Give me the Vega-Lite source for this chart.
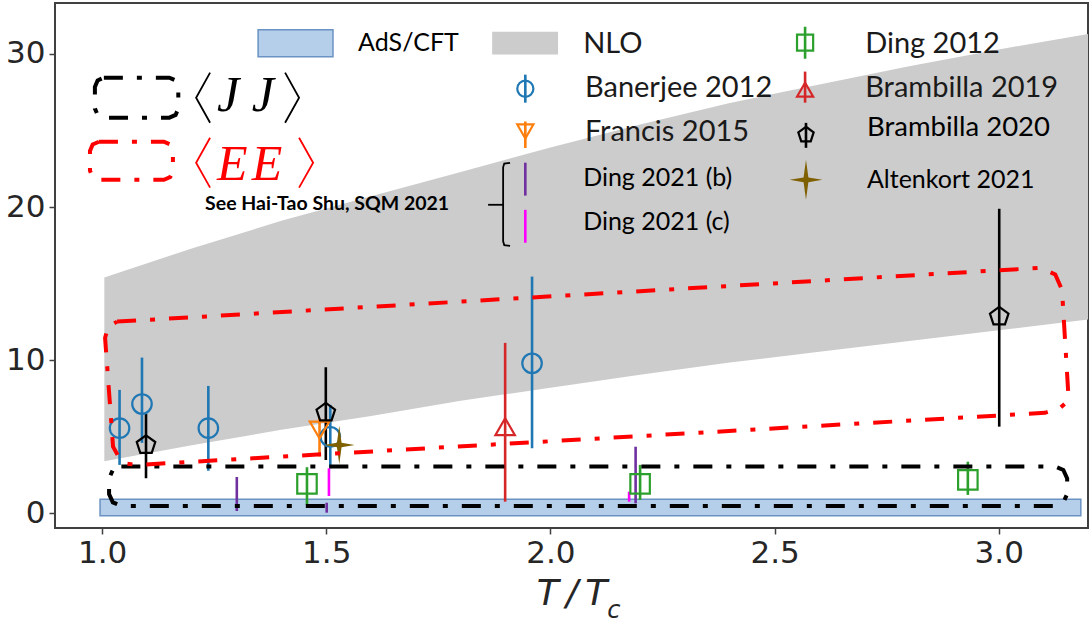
{
  "$schema": "https://vega.github.io/schema/vega-lite/v6.json",
  "width": 1033,
  "height": 525,
  "autosize": {"type": "none"},
  "padding": {"left": 55, "top": 3, "right": 2, "bottom": 96},
  "background": "white",
  "config": {
    "view": {"stroke": "#404040", "strokeWidth": 2},
    "axis": {
      "grid": false,
      "domain": false,
      "labelFont": "DejaVu Sans",
      "labelFontSize": 31,
      "labelColor": "#262626",
      "tickColor": "#404040",
      "tickWidth": 1.5,
      "tickSize": 6,
      "labelPadding": 4,
      "titleFont": "DejaVu Sans",
      "titleFontStyle": "italic",
      "titleFontWeight": "normal",
      "titleFontSize": 36,
      "titleColor": "#262626",
      "titlePadding": 8
    }
  },
  "datasets": {
    "nlo": [
      {"T": 1.005, "y": 3.4, "hi": 15.4},
      {"T": 1.2, "y": 4.45, "hi": 17.3},
      {"T": 1.4, "y": 5.45, "hi": 19.1},
      {"T": 1.6, "y": 6.35, "hi": 20.7},
      {"T": 1.8, "y": 7.35, "hi": 22.3},
      {"T": 2.0, "y": 8.2, "hi": 23.9},
      {"T": 2.2, "y": 9.05, "hi": 25.4},
      {"T": 2.4, "y": 9.85, "hi": 26.8},
      {"T": 2.6, "y": 10.55, "hi": 28.0},
      {"T": 2.8, "y": 11.25, "hi": 29.2},
      {"T": 3.0, "y": 11.95, "hi": 30.3},
      {"T": 3.199, "y": 12.65, "hi": 31.3}
    ],
    "ads": [
      {"T": 0.9955, "T1": 3.183, "y": -0.157, "hi": 0.915},
      {"T": 1.348, "T1": 1.515, "y": 29.82, "hi": 31.59}
    ],
    "nloswatch": [
      {"T": 1.870, "T1": 2.017, "y": 29.96, "hi": 31.46}
    ],
    "pts": [
      {"series": "Banerjee 2012", "T": 1.039, "y": 5.56, "lo": 3.16, "hi": 8.06},
      {"series": "Banerjee 2012", "T": 1.089, "y": 7.14, "lo": 4.6, "hi": 10.17},
      {"series": "Banerjee 2012", "T": 1.237, "y": 5.56, "lo": 2.78, "hi": 8.32},
      {"series": "Banerjee 2012", "T": 1.509, "y": 5.0, "lo": 2.94, "hi": 7.08},
      {"series": "Banerjee 2012", "T": 1.959, "y": 9.8, "lo": 4.25, "hi": 15.46},
      {"series": "Francis 2015", "T": 1.485, "y": 5.44, "lo": 3.7, "hi": 6.2},
      {"series": "Ding 2012", "T": 1.457, "y": 1.92, "lo": 0.54, "hi": 3.01},
      {"series": "Ding 2012", "T": 2.2, "y": 1.92, "lo": 0.87, "hi": 3.16},
      {"series": "Ding 2012", "T": 2.931, "y": 2.18, "lo": 1.2, "hi": 3.37},
      {"series": "Brambilla 2019", "T": 1.899, "y": 5.66, "lo": 0.76, "hi": 11.13},
      {"series": "Brambilla 2020", "T": 1.098, "y": 4.46, "lo": 2.29, "hi": 6.49},
      {"series": "Brambilla 2020", "T": 1.499, "y": 6.58, "lo": 3.48, "hi": 9.54},
      {"series": "Brambilla 2020", "T": 3.001, "y": 12.85, "lo": 5.66, "hi": 19.89},
      {"series": "Altenkort 2021", "T": 1.529, "y": 4.46, "lo": null, "hi": null},
      {"series": "Ding 2021 (b)", "T": 1.3005, "y": null, "lo": 0.15, "hi": 2.37},
      {"series": "Ding 2021 (b)", "T": 1.501, "y": null, "lo": 0.04, "hi": 0.69},
      {"series": "Ding 2021 (b)", "T": 2.19, "y": null, "lo": 0.65, "hi": 4.35},
      {"series": "Ding 2021 (c)", "T": 1.506, "y": null, "lo": 1.13, "hi": 2.94},
      {"series": "Ding 2021 (c)", "T": 2.1755, "y": null, "lo": 0.76, "hi": 1.41}
    ],
    "legm": [
      {"series": "Banerjee 2012", "T": 1.944, "y": 27.73, "lo": 26.82, "hi": 28.65},
      {"series": "Francis 2015", "T": 1.944, "y": 24.94, "lo": 23.86, "hi": 25.59},
      {"series": "Ding 2021 (b)", "T": 1.944, "y": null, "lo": 20.75, "hi": 22.9},
      {"series": "Ding 2021 (c)", "T": 1.944, "y": null, "lo": 17.67, "hi": 19.82},
      {"series": "Ding 2012", "T": 2.568, "y": 30.74, "lo": 29.69, "hi": 31.78},
      {"series": "Brambilla 2019", "T": 2.568, "y": 27.67, "lo": 26.82, "hi": 28.85},
      {"series": "Brambilla 2020", "T": 2.570, "y": 24.72, "lo": 23.87, "hi": 25.5},
      {"series": "Altenkort 2021", "T": 2.570, "y": 21.78, "lo": null, "hi": null}
    ],
    "legt": [
      {"label": "AdS/CFT", "T": 1.571, "y": 30.74, "grp": "small"},
      {"label": "NLO", "T": 2.073, "y": 30.67, "grp": "big"},
      {"label": "Banerjee 2012", "T": 2.077, "y": 27.8, "grp": "big"},
      {"label": "Francis 2015", "T": 2.077, "y": 24.92, "grp": "big"},
      {"label": "Ding 2021 (b)", "T": 2.073, "y": 21.92, "grp": "small"},
      {"label": "Ding 2021 (c)", "T": 2.073, "y": 19.04, "grp": "small"},
      {"label": "Ding 2012", "T": 2.702, "y": 30.67, "grp": "big"},
      {"label": "Brambilla 2019", "T": 2.702, "y": 27.8, "grp": "big"},
      {"label": "Brambilla 2020", "T": 2.706, "y": 25.18, "grp": "mid"},
      {"label": "Altenkort 2021", "T": 2.706, "y": 21.78, "grp": "small"}
    ],
    "boxes": [
      {"box": "JJ plot", "kind": "JJ", "i": 1, "T": 1.043, "y": 3.06},
      {"box": "JJ plot", "kind": "JJ", "i": 2, "T": 3.125, "y": 3.06},
      {"box": "JJ plot", "kind": "JJ", "i": 3, "T": 3.144, "y": 2.83},
      {"box": "JJ plot", "kind": "JJ", "i": 4, "T": 3.1525, "y": 2.28},
      {"box": "JJ plot", "kind": "JJ", "i": 5, "T": 3.1525, "y": 1.26},
      {"box": "JJ plot", "kind": "JJ", "i": 6, "T": 3.144, "y": 0.71},
      {"box": "JJ plot", "kind": "JJ", "i": 7, "T": 3.125, "y": 0.48},
      {"box": "JJ plot", "kind": "JJ", "i": 8, "T": 1.043, "y": 0.48},
      {"box": "JJ plot", "kind": "JJ", "i": 9, "T": 1.024, "y": 0.71},
      {"box": "JJ plot", "kind": "JJ", "i": 10, "T": 1.0156, "y": 1.26},
      {"box": "JJ plot", "kind": "JJ", "i": 11, "T": 1.0156, "y": 2.28},
      {"box": "JJ plot", "kind": "JJ", "i": 12, "T": 1.024, "y": 2.83},
      {"box": "JJ plot", "kind": "JJ", "i": 13, "T": 1.043, "y": 3.06},
      {"box": "EE plot", "kind": "EE", "i": 1, "T": 1.0335, "y": 12.52},
      {"box": "EE plot", "kind": "EE", "i": 2, "T": 3.092, "y": 16.03},
      {"box": "EE plot", "kind": "EE", "i": 3, "T": 3.126, "y": 15.6},
      {"box": "EE plot", "kind": "EE", "i": 4, "T": 3.141, "y": 14.6},
      {"box": "EE plot", "kind": "EE", "i": 5, "T": 3.155, "y": 7.86},
      {"box": "EE plot", "kind": "EE", "i": 6, "T": 3.149, "y": 7.2},
      {"box": "EE plot", "kind": "EE", "i": 7, "T": 3.137, "y": 6.88},
      {"box": "EE plot", "kind": "EE", "i": 8, "T": 3.103, "y": 6.56},
      {"box": "EE plot", "kind": "EE", "i": 9, "T": 1.078, "y": 3.16},
      {"box": "EE plot", "kind": "EE", "i": 10, "T": 1.052, "y": 3.25},
      {"box": "EE plot", "kind": "EE", "i": 11, "T": 1.040, "y": 3.53},
      {"box": "EE plot", "kind": "EE", "i": 12, "T": 1.0245, "y": 4.35},
      {"box": "EE plot", "kind": "EE", "i": 13, "T": 1.0067, "y": 11.46},
      {"box": "EE plot", "kind": "EE", "i": 14, "T": 1.0134, "y": 12.18},
      {"box": "EE plot", "kind": "EE", "i": 15, "T": 1.0335, "y": 12.52},
      {"box": "JJ key", "kind": "JJ", "i": 1, "T": 1.004, "y": 28.45},
      {"box": "JJ key", "kind": "JJ", "i": 2, "T": 1.150, "y": 28.45},
      {"box": "JJ key", "kind": "JJ", "i": 3, "T": 1.164, "y": 28.27},
      {"box": "JJ key", "kind": "JJ", "i": 4, "T": 1.170, "y": 27.85},
      {"box": "JJ key", "kind": "JJ", "i": 5, "T": 1.170, "y": 26.44},
      {"box": "JJ key", "kind": "JJ", "i": 6, "T": 1.164, "y": 26.02},
      {"box": "JJ key", "kind": "JJ", "i": 7, "T": 1.150, "y": 25.84},
      {"box": "JJ key", "kind": "JJ", "i": 8, "T": 1.004, "y": 25.84},
      {"box": "JJ key", "kind": "JJ", "i": 9, "T": 0.990, "y": 26.02},
      {"box": "JJ key", "kind": "JJ", "i": 10, "T": 0.984, "y": 26.44},
      {"box": "JJ key", "kind": "JJ", "i": 11, "T": 0.984, "y": 27.85},
      {"box": "JJ key", "kind": "JJ", "i": 12, "T": 0.990, "y": 28.27},
      {"box": "JJ key", "kind": "JJ", "i": 13, "T": 1.004, "y": 28.45},
      {"box": "EE key", "kind": "EE", "i": 1, "T": 0.993, "y": 24.27},
      {"box": "EE key", "kind": "EE", "i": 2, "T": 1.138, "y": 24.27},
      {"box": "EE key", "kind": "EE", "i": 3, "T": 1.152, "y": 24.09},
      {"box": "EE key", "kind": "EE", "i": 4, "T": 1.158, "y": 23.67},
      {"box": "EE key", "kind": "EE", "i": 5, "T": 1.158, "y": 22.38},
      {"box": "EE key", "kind": "EE", "i": 6, "T": 1.152, "y": 21.96},
      {"box": "EE key", "kind": "EE", "i": 7, "T": 1.138, "y": 21.78},
      {"box": "EE key", "kind": "EE", "i": 8, "T": 0.993, "y": 21.78},
      {"box": "EE key", "kind": "EE", "i": 9, "T": 0.979, "y": 21.96},
      {"box": "EE key", "kind": "EE", "i": 10, "T": 0.973, "y": 22.38},
      {"box": "EE key", "kind": "EE", "i": 11, "T": 0.973, "y": 23.67},
      {"box": "EE key", "kind": "EE", "i": 12, "T": 0.979, "y": 24.09},
      {"box": "EE key", "kind": "EE", "i": 13, "T": 0.993, "y": 24.27}
    ],
    "brk": [
      {"part": "main", "kind": "JJ", "i": 1, "T": 1.910, "y": 22.89},
      {"part": "main", "kind": "JJ", "i": 2, "T": 1.897, "y": 22.84},
      {"part": "main", "kind": "JJ", "i": 3, "T": 1.8945, "y": 22.6},
      {"part": "main", "kind": "JJ", "i": 4, "T": 1.8945, "y": 17.76},
      {"part": "main", "kind": "JJ", "i": 5, "T": 1.897, "y": 17.52},
      {"part": "main", "kind": "JJ", "i": 6, "T": 1.910, "y": 17.47},
      {"part": "tick", "kind": "JJ", "i": 1, "T": 1.861, "y": 20.15},
      {"part": "tick", "kind": "JJ", "i": 2, "T": 1.8945, "y": 20.15},
      {"part": "JJ left", "kind": "JJ", "i": 1, "T": 1.2409, "y": 28.78},
      {"part": "JJ left", "kind": "JJ", "i": 2, "T": 1.2097, "y": 27.14},
      {"part": "JJ left", "kind": "JJ", "i": 3, "T": 1.2409, "y": 25.51},
      {"part": "JJ right", "kind": "JJ", "i": 1, "T": 1.4082, "y": 28.78},
      {"part": "JJ right", "kind": "JJ", "i": 2, "T": 1.4394, "y": 27.14},
      {"part": "JJ right", "kind": "JJ", "i": 3, "T": 1.4082, "y": 25.51},
      {"part": "EE left", "kind": "EE", "i": 1, "T": 1.2409, "y": 24.53},
      {"part": "EE left", "kind": "EE", "i": 2, "T": 1.2097, "y": 22.9},
      {"part": "EE left", "kind": "EE", "i": 3, "T": 1.2409, "y": 21.27},
      {"part": "EE right", "kind": "EE", "i": 1, "T": 1.4394, "y": 24.53},
      {"part": "EE right", "kind": "EE", "i": 2, "T": 1.4707, "y": 22.9},
      {"part": "EE right", "kind": "EE", "i": 3, "T": 1.4394, "y": 21.27}
    ],
    "notes": [
      {"label": "See Hai-Tao Shu, SQM 2021", "T": 1.2298, "y": 20.22}
    ],
    "corr": [
      {"label": "J J", "kind": "JJ", "T": 1.2565, "y": 26.29},
      {"label": "E\u200aE", "kind": "EE", "T": 1.2565, "y": 21.78}
    ],
    "sub": [
      {"label": "c", "T": 2.1265, "y": -6.84}
    ]
  },
  "layer": [
    {
      "data": {"name": "nlo"},
      "mark": {"type": "area", "color": "#cccccc", "opacity": 1},
      "encoding": {
        "x": {"field": "T", "type": "quantitative", "title": "T\u2009/\u2009T", "scale": {"domain": [0.895, 3.199], "nice": false, "zero": false}, "axis": {"values": [1.0, 1.5, 2.0, 2.5, 3.0], "format": ".1f"}},
        "y": {"field": "y", "type": "quantitative", "title": null, "scale": {"domain": [-0.96, 33.33], "nice": false, "zero": false}, "axis": {"values": [0, 10, 20, 30]}},
        "y2": {"field": "hi"}
      }
    },
    {
      "data": {"name": "ads"},
      "mark": {"type": "rect", "fill": "#b5cfeb", "stroke": "#6a92c2", "strokeWidth": 1.5},
      "encoding": {
        "x": {"field": "T", "type": "quantitative", "title": "T\u2009/\u2009T", "scale": {"domain": [0.895, 3.199], "nice": false, "zero": false}, "axis": {"values": [1.0, 1.5, 2.0, 2.5, 3.0], "format": ".1f"}},
        "x2": {"field": "T1"},
        "y": {"field": "y", "type": "quantitative", "title": null, "scale": {"domain": [-0.96, 33.33], "nice": false, "zero": false}, "axis": {"values": [0, 10, 20, 30]}},
        "y2": {"field": "hi"}
      }
    },
    {
      "data": {"name": "nloswatch"},
      "mark": {"type": "rect", "fill": "#cccccc"},
      "encoding": {
        "x": {"field": "T", "type": "quantitative", "title": "T\u2009/\u2009T", "scale": {"domain": [0.895, 3.199], "nice": false, "zero": false}, "axis": {"values": [1.0, 1.5, 2.0, 2.5, 3.0], "format": ".1f"}},
        "x2": {"field": "T1"},
        "y": {"field": "y", "type": "quantitative", "title": null, "scale": {"domain": [-0.96, 33.33], "nice": false, "zero": false}, "axis": {"values": [0, 10, 20, 30]}},
        "y2": {"field": "hi"}
      }
    },
    {
      "data": {"name": "pts"},
      "transform": [{"filter": "datum.lo != null"}],
      "mark": {"type": "rule", "strokeWidth": 2.6},
      "encoding": {
        "x": {"field": "T", "type": "quantitative", "title": "T\u2009/\u2009T", "scale": {"domain": [0.895, 3.199], "nice": false, "zero": false}, "axis": {"values": [1.0, 1.5, 2.0, 2.5, 3.0], "format": ".1f"}},
        "y": {"field": "lo", "type": "quantitative", "title": null, "scale": {"domain": [-0.96, 33.33], "nice": false, "zero": false}, "axis": {"values": [0, 10, 20, 30]}},
        "y2": {"field": "hi"},
        "color": {"field": "series", "type": "nominal", "legend": null,
                  "scale": {"domain": ["Banerjee 2012", "Francis 2015", "Ding 2012", "Brambilla 2019", "Brambilla 2020", "Altenkort 2021", "Ding 2021 (b)", "Ding 2021 (c)"],
                            "range": ["#1f77b4", "#ff7f0e", "#2ca02c", "#d62728", "#000000", "#7f6000", "#7030a0", "#ff00ff"]}}
      }
    },
    {
      "data": {"name": "pts"},
      "transform": [{"filter": "datum.y != null && datum.series != 'Altenkort 2021'"}],
      "mark": {"type": "point", "filled": false, "strokeWidth": 2.2, "opacity": 1},
      "encoding": {
        "x": {"field": "T", "type": "quantitative", "title": "T\u2009/\u2009T", "scale": {"domain": [0.895, 3.199], "nice": false, "zero": false}, "axis": {"values": [1.0, 1.5, 2.0, 2.5, 3.0], "format": ".1f"}},
        "y": {"field": "y", "type": "quantitative", "title": null, "scale": {"domain": [-0.96, 33.33], "nice": false, "zero": false}, "axis": {"values": [0, 10, 20, 30]}},
        "color": {"field": "series", "type": "nominal", "legend": null},
        "shape": {"field": "series", "type": "nominal", "legend": null,
                  "scale": {"domain": ["Banerjee 2012", "Francis 2015", "Ding 2012", "Brambilla 2019", "Brambilla 2020"],
                            "range": ["circle", "triangle-down", "square", "triangle-up", "M0,-1L0.951,-0.309L0.588,0.809L-0.588,0.809L-0.951,-0.309Z"]}},
        "size": {"value": 380}
      }
    },
    {
      "data": {"name": "pts"},
      "transform": [{"filter": "datum.series == 'Altenkort 2021'"}],
      "mark": {"type": "point", "filled": true, "opacity": 1, "color": "#7f6000",
               "shape": "M0,-1L0.12,-0.12L0.8,0L0.12,0.12L0,1L-0.12,0.12L-0.8,0L-0.12,-0.12Z", "size": 1480},
      "encoding": {
        "x": {"field": "T", "type": "quantitative", "title": "T\u2009/\u2009T", "scale": {"domain": [0.895, 3.199], "nice": false, "zero": false}, "axis": {"values": [1.0, 1.5, 2.0, 2.5, 3.0], "format": ".1f"}},
        "y": {"field": "y", "type": "quantitative", "title": null, "scale": {"domain": [-0.96, 33.33], "nice": false, "zero": false}, "axis": {"values": [0, 10, 20, 30]}}
      }
    },
    {
      "data": {"name": "legm"},
      "transform": [{"filter": "datum.lo != null"}],
      "mark": {"type": "rule", "strokeWidth": 2.6},
      "encoding": {
        "x": {"field": "T", "type": "quantitative", "title": "T\u2009/\u2009T", "scale": {"domain": [0.895, 3.199], "nice": false, "zero": false}, "axis": {"values": [1.0, 1.5, 2.0, 2.5, 3.0], "format": ".1f"}},
        "y": {"field": "lo", "type": "quantitative", "title": null, "scale": {"domain": [-0.96, 33.33], "nice": false, "zero": false}, "axis": {"values": [0, 10, 20, 30]}},
        "y2": {"field": "hi"},
        "color": {"field": "series", "type": "nominal", "legend": null}
      }
    },
    {
      "data": {"name": "legm"},
      "transform": [{"filter": "datum.y != null && datum.series != 'Altenkort 2021'"}],
      "mark": {"type": "point", "filled": false, "strokeWidth": 2.2, "opacity": 1},
      "encoding": {
        "x": {"field": "T", "type": "quantitative", "title": "T\u2009/\u2009T", "scale": {"domain": [0.895, 3.199], "nice": false, "zero": false}, "axis": {"values": [1.0, 1.5, 2.0, 2.5, 3.0], "format": ".1f"}},
        "y": {"field": "y", "type": "quantitative", "title": null, "scale": {"domain": [-0.96, 33.33], "nice": false, "zero": false}, "axis": {"values": [0, 10, 20, 30]}},
        "color": {"field": "series", "type": "nominal", "legend": null},
        "shape": {"field": "series", "type": "nominal", "legend": null},
        "size": {"value": 260}
      }
    },
    {
      "data": {"name": "legm"},
      "transform": [{"filter": "datum.series == 'Altenkort 2021'"}],
      "mark": {"type": "point", "filled": true, "opacity": 1, "color": "#7f6000",
               "shape": "M0,-1L0.12,-0.12L0.82,0L0.12,0.12L0,1L-0.12,0.12L-0.82,0L-0.12,-0.12Z", "size": 1600},
      "encoding": {
        "x": {"field": "T", "type": "quantitative", "title": "T\u2009/\u2009T", "scale": {"domain": [0.895, 3.199], "nice": false, "zero": false}, "axis": {"values": [1.0, 1.5, 2.0, 2.5, 3.0], "format": ".1f"}},
        "y": {"field": "y", "type": "quantitative", "title": null, "scale": {"domain": [-0.96, 33.33], "nice": false, "zero": false}, "axis": {"values": [0, 10, 20, 30]}}
      }
    },
    {
      "data": {"name": "boxes"},
      "mark": {"type": "line", "strokeWidth": 4, "strokeDash": [19, 14, 5, 14], "strokeCap": "butt"},
      "encoding": {
        "x": {"field": "T", "type": "quantitative", "title": "T\u2009/\u2009T", "scale": {"domain": [0.895, 3.199], "nice": false, "zero": false}, "axis": {"values": [1.0, 1.5, 2.0, 2.5, 3.0], "format": ".1f"}},
        "y": {"field": "y", "type": "quantitative", "title": null, "scale": {"domain": [-0.96, 33.33], "nice": false, "zero": false}, "axis": {"values": [0, 10, 20, 30]}},
        "order": {"field": "i", "type": "quantitative"},
        "detail": {"field": "box", "type": "nominal"},
        "stroke": {"condition": {"test": "datum.kind === 'EE'", "value": "#ff0000"}, "value": "#000000"}
      }
    },
    {
      "data": {"name": "brk"},
      "mark": {"type": "line", "strokeWidth": 1.8},
      "encoding": {
        "x": {"field": "T", "type": "quantitative", "title": "T\u2009/\u2009T", "scale": {"domain": [0.895, 3.199], "nice": false, "zero": false}, "axis": {"values": [1.0, 1.5, 2.0, 2.5, 3.0], "format": ".1f"}},
        "y": {"field": "y", "type": "quantitative", "title": null, "scale": {"domain": [-0.96, 33.33], "nice": false, "zero": false}, "axis": {"values": [0, 10, 20, 30]}},
        "order": {"field": "i", "type": "quantitative"},
        "detail": {"field": "part", "type": "nominal"},
        "stroke": {"condition": {"test": "datum.kind === 'EE'", "value": "#ff0000"}, "value": "#000000"}
      }
    },
    {
      "data": {"name": "legt"},
      "transform": [{"filter": "datum.grp == 'big'"}],
      "mark": {"type": "text", "align": "left", "baseline": "middle", "font": "Lato", "fontSize": 29, "color": "#1a1a1a"},
      "encoding": {
        "x": {"field": "T", "type": "quantitative", "title": "T\u2009/\u2009T", "scale": {"domain": [0.895, 3.199], "nice": false, "zero": false}, "axis": {"values": [1.0, 1.5, 2.0, 2.5, 3.0], "format": ".1f"}},
        "y": {"field": "y", "type": "quantitative", "title": null, "scale": {"domain": [-0.96, 33.33], "nice": false, "zero": false}, "axis": {"values": [0, 10, 20, 30]}},
        "text": {"field": "label"}
      }
    },
    {
      "data": {"name": "legt"},
      "transform": [{"filter": "datum.grp == 'mid'"}],
      "mark": {"type": "text", "align": "left", "baseline": "middle", "font": "Lato", "fontSize": 27.5, "color": "#000000"},
      "encoding": {
        "x": {"field": "T", "type": "quantitative", "title": "T\u2009/\u2009T", "scale": {"domain": [0.895, 3.199], "nice": false, "zero": false}, "axis": {"values": [1.0, 1.5, 2.0, 2.5, 3.0], "format": ".1f"}},
        "y": {"field": "y", "type": "quantitative", "title": null, "scale": {"domain": [-0.96, 33.33], "nice": false, "zero": false}, "axis": {"values": [0, 10, 20, 30]}},
        "text": {"field": "label"}
      }
    },
    {
      "data": {"name": "legt"},
      "transform": [{"filter": "datum.grp == 'small'"}],
      "mark": {"type": "text", "align": "left", "baseline": "middle", "font": "Lato", "fontSize": 25, "color": "#000000"},
      "encoding": {
        "x": {"field": "T", "type": "quantitative", "title": "T\u2009/\u2009T", "scale": {"domain": [0.895, 3.199], "nice": false, "zero": false}, "axis": {"values": [1.0, 1.5, 2.0, 2.5, 3.0], "format": ".1f"}},
        "y": {"field": "y", "type": "quantitative", "title": null, "scale": {"domain": [-0.96, 33.33], "nice": false, "zero": false}, "axis": {"values": [0, 10, 20, 30]}},
        "text": {"field": "label"}
      }
    },
    {
      "data": {"name": "notes"},
      "mark": {"type": "text", "align": "left", "baseline": "middle", "font": "Lato", "fontWeight": "bold", "fontSize": 19.5, "color": "#000000"},
      "encoding": {
        "x": {"field": "T", "type": "quantitative", "title": "T\u2009/\u2009T", "scale": {"domain": [0.895, 3.199], "nice": false, "zero": false}, "axis": {"values": [1.0, 1.5, 2.0, 2.5, 3.0], "format": ".1f"}},
        "y": {"field": "y", "type": "quantitative", "title": null, "scale": {"domain": [-0.96, 33.33], "nice": false, "zero": false}, "axis": {"values": [0, 10, 20, 30]}},
        "text": {"field": "label"}
      }
    },
    {
      "data": {"name": "corr"},
      "mark": {"type": "text", "align": "left", "baseline": "alphabetic", "font": "Liberation Serif", "fontStyle": "italic", "fontSize": 50},
      "encoding": {
        "x": {"field": "T", "type": "quantitative", "title": "T\u2009/\u2009T", "scale": {"domain": [0.895, 3.199], "nice": false, "zero": false}, "axis": {"values": [1.0, 1.5, 2.0, 2.5, 3.0], "format": ".1f"}},
        "y": {"field": "y", "type": "quantitative", "title": null, "scale": {"domain": [-0.96, 33.33], "nice": false, "zero": false}, "axis": {"values": [0, 10, 20, 30]}},
        "text": {"field": "label"},
        "fill": {"condition": {"test": "datum.kind === 'EE'", "value": "#ff0000"}, "value": "#000000"}
      }
    },
    {
      "data": {"name": "sub"},
      "mark": {"type": "text", "align": "left", "baseline": "alphabetic", "font": "DejaVu Sans", "fontStyle": "italic", "fontSize": 24, "color": "#262626"},
      "encoding": {
        "x": {"field": "T", "type": "quantitative", "title": "T\u2009/\u2009T", "scale": {"domain": [0.895, 3.199], "nice": false, "zero": false}, "axis": {"values": [1.0, 1.5, 2.0, 2.5, 3.0], "format": ".1f"}},
        "y": {"field": "y", "type": "quantitative", "title": null, "scale": {"domain": [-0.96, 33.33], "nice": false, "zero": false}, "axis": {"values": [0, 10, 20, 30]}},
        "text": {"field": "label"}
      }
    }
  ]
}
